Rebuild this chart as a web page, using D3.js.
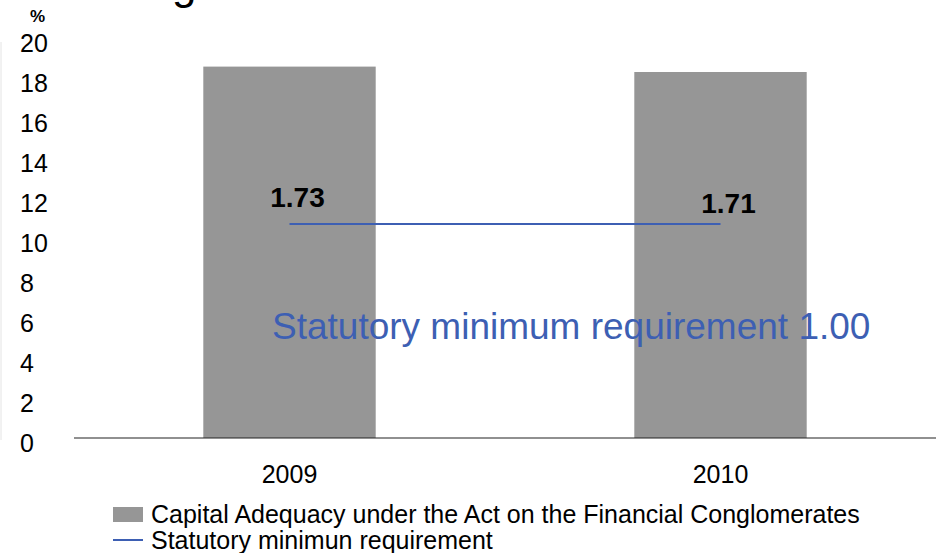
<!DOCTYPE html>
<html>
<head>
<meta charset="utf-8">
<script src="https://cdn.jsdelivr.net/npm/d3@7"></script>
<style>
    body { margin: 0; background: #fff; }
    text { font-family: "Liberation Sans", Arial, sans-serif; }
</style>
</head>
<body>
<div id="chart"></div>
<script>
//Data
var years = ["2009", "2010"];
var capitalAdequacy = [18.57, 18.3];
var statutoryLine = [10.7, 10.7];
var ratioLabels = ["1.73", "1.71"];
var yTicks = [0, 2, 4, 6, 8, 10, 12, 14, 16, 18, 20];
var legendItems = ["Capital Adequacy under the Act on the Financial Conglomerates", "Statutory minimun requirement"];
var noteText = "Statutory minimum requirement 1.00";

//Global Variable
var barColor = "#969696";
var lineColor = "#3d5fb3";
var width = 941, height = 553;

var svg = d3.select("#chart")
    .append("svg")
    .attr("width", width)
    .attr("height", height);

var x = d3.scaleBand()
    .domain(years)
    .range([74, 936])
    .padding(0);

var y = d3.scaleLinear()
    .domain([0, 20])
    .range([438, 38]);

//cut-off title at the top
svg.append("text")
    .attr("x", 172)
    .attr("y", -1)
    .style("font-size", "44px")
    .text("g");

//faint left border
svg.append("line")
    .attr("x1", 1).attr("x2", 1)
    .attr("y1", 42).attr("y2", 440)
    .attr("stroke", "#e4e4e4");

//y labels (left aligned, no axis line)
svg.append("g")
    .selectAll("ytick")
    .data(yTicks)
    .enter()
    .append("text")
    .attr("x", 20)
    .attr("y", function (d) { return y(d) + 14 })
    .style("font-size", "25px")
    .text(function (d) { return d });

svg.append("text")
    .attr("x", 30)
    .attr("y", 22)
    .style("font-size", "17px")
    .style("font-weight", "bold")
    .text("%");

//bars
var barW = x.bandwidth() * 0.4;
svg.append("g")
    .selectAll("bar")
    .data(capitalAdequacy)
    .enter()
    .append("rect")
    .attr("x", function (d, i) { return x(years[i]) + x.bandwidth() / 2 - barW / 2 })
    .attr("y", function (d) { return y(d) })
    .attr("width", barW)
    .attr("height", function (d) { return y(0) - y(d) })
    .style("fill", barColor);

//x axis line + labels
svg.append("line")
    .attr("x1", x.range()[0]).attr("x2", x.range()[1])
    .attr("y1", y(0)).attr("y2", y(0))
    .attr("stroke", "#222")
    .attr("stroke-width", 1.2);

svg.append("g")
    .selectAll("xlab")
    .data(years)
    .enter()
    .append("text")
    .attr("x", function (d) { return x(d) + x.bandwidth() / 2 })
    .attr("y", 483)
    .attr("text-anchor", "middle")
    .style("font-size", "25px")
    .text(function (d) { return d });

//statutory line
svg.append("path")
    .datum(statutoryLine)
    .attr("fill", "none")
    .attr("stroke", lineColor)
    .attr("stroke-width", 2)
    .attr("d", d3.line()
        .x(function (d, i) { return x(years[i]) + x.bandwidth() / 2 })
        .y(function (d) { return y(d) })
    );

//ratio labels
svg.append("g")
    .selectAll("rlab")
    .data(ratioLabels)
    .enter()
    .append("text")
    .attr("x", function (d, i) { return x(years[i]) + x.bandwidth() / 2 + 8 })
    .attr("y", function (d, i) { return y(statutoryLine[i]) - 17 + i * 6 })
    .attr("text-anchor", "middle")
    .style("font-size", "28px")
    .style("font-weight", "bold")
    .text(function (d) { return d });

svg.append("text")
    .attr("x", 272)
    .attr("y", 339)
    .style("font-size", "37px")
    .style("fill", lineColor)
    .text(noteText);

//legend
svg.append("rect")
    .attr("x", 113).attr("y", 507)
    .attr("width", 30).attr("height", 15)
    .style("fill", barColor);
svg.append("line")
    .attr("x1", 113).attr("x2", 143)
    .attr("y1", 540).attr("y2", 540)
    .attr("stroke", lineColor)
    .attr("stroke-width", 2);
svg.append("g")
    .selectAll("legText")
    .data(legendItems)
    .enter()
    .append("text")
    .attr("x", 151)
    .attr("y", function (d, i) { return 523 + i * 26 })
    .style("font-size", "25px")
    .text(function (d) { return d });
</script>
</body>
</html>
